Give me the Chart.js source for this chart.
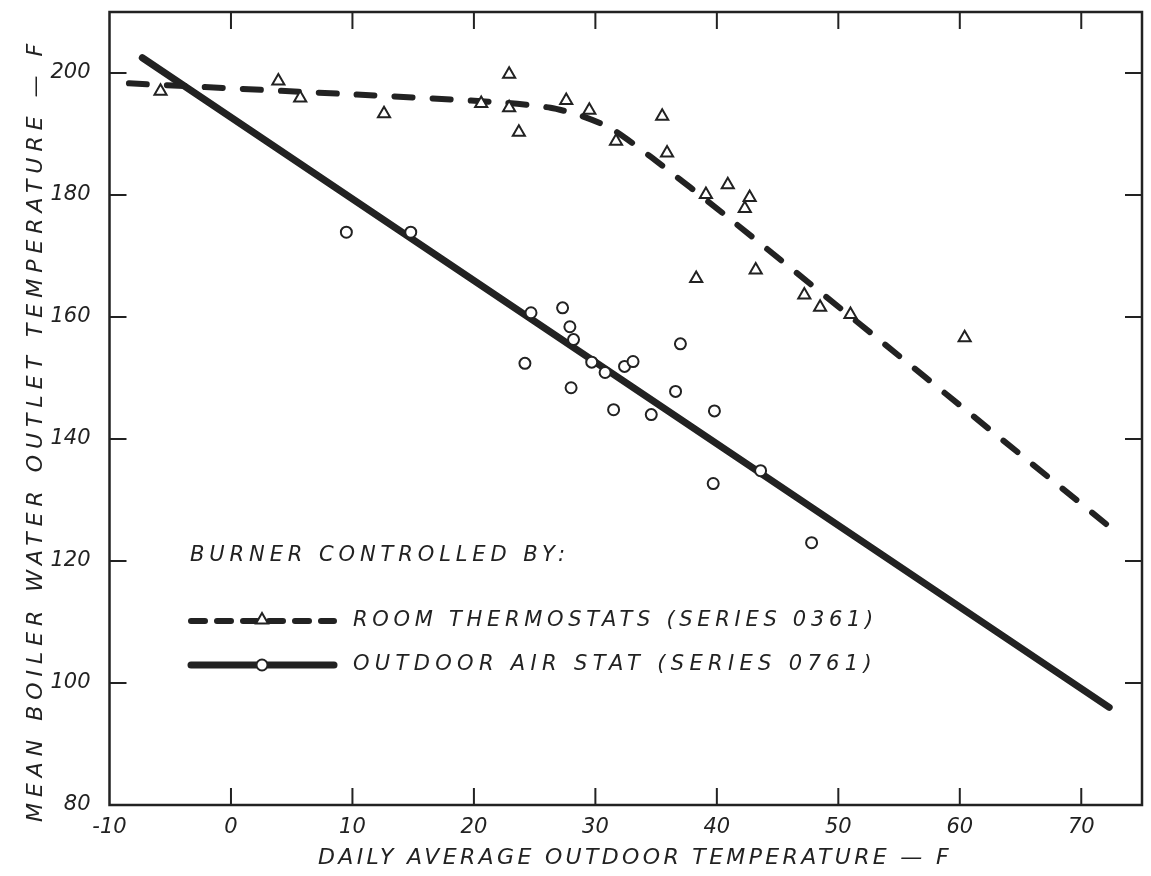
<!DOCTYPE html>
<html>
<head>
<meta charset="utf-8">
<title>Mean boiler water outlet temperature</title>
<script src="https://cdn.jsdelivr.net/npm/chart.js@4.4.1/dist/chart.umd.min.js"></script>
<style>
  html, body { margin: 0; padding: 0; background: #fff; }
  #wrap { width: 1151px; height: 876px; }
</style>
</head>
<body>
<div id="wrap"><canvas id="boilerChart" width="1151" height="876"></canvas></div>
<script>
// values
const roomPoints = [
  [-5.8, 197.0], [3.9, 198.7], [5.7, 195.9], [12.6, 193.3], [20.6, 195.0],
  [22.9, 199.8], [22.9, 194.3], [23.7, 190.3], [27.6, 195.5], [29.5, 193.9],
  [31.7, 188.8], [35.5, 192.9], [35.9, 186.9], [39.1, 180.1], [40.9, 181.7],
  [42.7, 179.6], [42.3, 177.8], [38.3, 166.3], [43.2, 167.7], [47.2, 163.6],
  [48.5, 161.6], [51.0, 160.4], [60.4, 156.6]
];
const outdoorPoints = [
  [9.5, 173.9], [14.8, 173.9], [24.7, 160.7], [27.3, 161.5], [27.9, 158.4],
  [28.2, 156.3], [24.2, 152.4], [29.7, 152.6], [30.8, 150.9], [32.4, 151.9],
  [33.1, 152.7], [37.0, 155.6], [28.0, 148.4], [31.5, 144.8], [34.6, 144.0],
  [36.6, 147.8], [39.8, 144.6], [39.7, 132.7], [43.6, 134.8], [47.8, 123.0]
];
// fitted curves drawn by hand on the original
const roomCurve = [
  [-8.4, 198.3], [10, 196.5], [22, 195.2], [26.3, 194.3], [28.8, 193.0],
  [31.3, 190.9], [34.6, 186.2], [41, 176.2], [73.2, 124.2]
];
const outdoorCurve = [[-7.3, 202.5], [72.3, 96.0]];

const xTicks = [-10, 0, 10, 20, 30, 40, 50, 60, 70];
const yTicks = [80, 100, 120, 140, 160, 180, 200];

const legendTitle = 'BURNER CONTROLLED BY:';
const roomLabel = 'ROOM THERMOSTATS (SERIES 0361)';
const outdoorLabel = 'OUTDOOR AIR STAT (SERIES 0761)';
const xTitle = 'DAILY AVERAGE OUTDOOR TEMPERATURE \u2014 F';
const yTitle = 'MEAN BOILER WATER OUTLET TEMPERATURE \u2014 F';

const INK = '#222';
const FONT = '"DejaVu Sans", sans-serif';

const toXY = arr => arr.map(p => ({ x: p[0], y: p[1] }));

// draws text stretched to a given width with letter spacing
function spacedText(ctx, text, x, y, width, size, align) {
  ctx.save();
  ctx.font = 'italic ' + size + 'px ' + FONT;
  ctx.letterSpacing = '0px';
  const w = ctx.measureText(text).width;
  const sp = Math.max(0, (width - w) / text.length);
  ctx.letterSpacing = sp + 'px';
  ctx.fillStyle = INK;
  ctx.textBaseline = 'middle';
  ctx.textAlign = 'left';
  const start = align === 'center' ? x - width / 2 : x;
  ctx.fillText(text, start, y);
  ctx.restore();
}

const framePlugin = {
  id: 'frame',
  afterDatasetsDraw(chart) {
    const { ctx, chartArea: a, scales } = chart;
    ctx.save();
    ctx.strokeStyle = INK;
    ctx.lineWidth = 2.5;
    ctx.strokeRect(a.left, a.top, a.right - a.left, a.bottom - a.top);
    ctx.lineWidth = 2;
    ctx.beginPath();
    xTicks.forEach(v => {
      if (v <= -10) return;
      const px = scales.x.getPixelForValue(v);
      ctx.moveTo(px, a.bottom); ctx.lineTo(px, a.bottom - 17);
      ctx.moveTo(px, a.top); ctx.lineTo(px, a.top + 17);
    });
    yTicks.forEach(v => {
      if (v <= 80) return;
      const py = scales.y.getPixelForValue(v);
      ctx.moveTo(a.left, py); ctx.lineTo(a.left + 17, py);
      ctx.moveTo(a.right, py); ctx.lineTo(a.right - 17, py);
    });
    ctx.stroke();
    ctx.restore();
  },
  afterDraw(chart) {
    const ctx = chart.ctx;
    // axis titles
    spacedText(ctx, xTitle, 635, 858, 634, 22, 'center');
    ctx.save();
    ctx.translate(36, 430);
    ctx.rotate(-Math.PI / 2);
    spacedText(ctx, yTitle, 0, 0, 784, 22, 'center');
    ctx.restore();

    // legend
    spacedText(ctx, legendTitle, 190, 556, 380, 21, 'left');
    spacedText(ctx, roomLabel, 353, 621, 525, 21, 'left');
    spacedText(ctx, outdoorLabel, 353, 665, 524, 21, 'left');

    ctx.save();
    ctx.strokeStyle = INK;
    ctx.lineCap = 'round';
    ctx.lineWidth = 6;
    ctx.setLineDash([14, 12]);
    ctx.beginPath();
    ctx.moveTo(191, 621); ctx.lineTo(334, 621);
    ctx.stroke();
    ctx.setLineDash([]);
    ctx.lineWidth = 7;
    ctx.beginPath();
    ctx.moveTo(191, 665); ctx.lineTo(334, 665);
    ctx.stroke();
    ctx.fillStyle = '#fff';
    ctx.lineWidth = 2;
    Chart.helpers.drawPoint(ctx, { pointStyle: 'triangle', radius: 7, borderWidth: 2 }, 262, 620);
    Chart.helpers.drawPoint(ctx, { pointStyle: 'circle', radius: 5.5, borderWidth: 2 }, 262, 665);
    ctx.restore();
  }
};

new Chart(document.getElementById('boilerChart'), {
  type: 'scatter',
  data: {
    datasets: [
      {
        label: roomLabel,
        data: toXY(roomPoints),
        pointStyle: 'triangle',
        pointRadius: 7,
        pointBorderWidth: 2,
        pointBorderColor: INK,
        pointBackgroundColor: '#fff',
        order: 1
      },
      {
        label: outdoorLabel,
        data: toXY(outdoorPoints),
        pointStyle: 'circle',
        pointRadius: 5.5,
        pointBorderWidth: 2,
        pointBorderColor: INK,
        pointBackgroundColor: '#fff',
        order: 1
      },
      {
        type: 'line',
        data: toXY(roomCurve),
        borderColor: INK,
        borderWidth: 6,
        borderDash: [18, 20],
        borderCapStyle: 'round',
        borderJoinStyle: 'round',
        pointRadius: 0,
        tension: 0.25,
        fill: false,
        order: 2
      },
      {
        type: 'line',
        data: toXY(outdoorCurve),
        borderColor: INK,
        borderWidth: 7,
        borderCapStyle: 'round',
        pointRadius: 0,
        fill: false,
        order: 2
      }
    ]
  },
  options: {
    responsive: false,
    animation: false,
    devicePixelRatio: 1,
    layout: { padding: { top: 12, right: 5, left: 0, bottom: 0 } },
    plugins: { legend: { display: false }, tooltip: { enabled: false } },
    scales: {
      x: {
        type: 'linear',
        min: -10,
        max: 75,
        afterBuildTicks: s => { s.ticks = xTicks.map(v => ({ value: v })); },
        afterFit: s => { s.height = 71; s.paddingLeft = 0; s.paddingRight = 0; },
        grid: { display: false, drawTicks: false },
        border: { display: false },
        ticks: {
          padding: 10,
          color: INK,
          maxRotation: 0,
          font: { family: FONT, style: 'italic', size: 21 }
        }
      },
      y: {
        type: 'linear',
        min: 80,
        max: 210,
        afterBuildTicks: s => { s.ticks = yTicks.map(v => ({ value: v })); },
        afterFit: s => { s.width = 109.5; s.paddingTop = 0; s.paddingBottom = 0; },
        grid: { display: false, drawTicks: false },
        border: { display: false },
        ticks: {
          padding: 19,
          color: INK,
          font: { family: FONT, style: 'italic', size: 21 }
        }
      }
    }
  },
  plugins: [framePlugin]
});
</script>
</body>
</html>
